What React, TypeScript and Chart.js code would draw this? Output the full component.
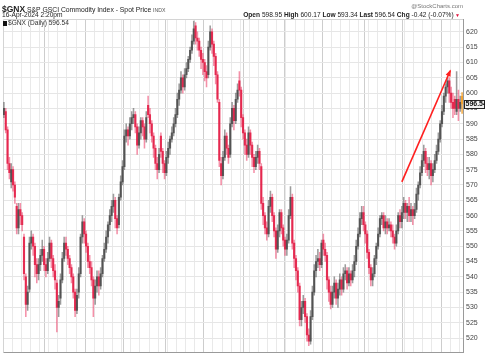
import React, { useEffect, useRef } from 'react';
import { Chart, registerables } from 'chart.js';

Chart.register(...registerables);

// ---- Data ----
const opens = [
  593, 594, 588, 577, 571, 575, 570, 563, 556, 562,
  560, 553, 540, 531, 536, 551, 553, 550, 544, 541,
  544, 547, 549, 544, 542, 546, 551, 546, 542, 538,
  530, 533, 539, 546, 551, 549, 546, 543, 540, 535,
  529, 535, 541, 553, 558, 554, 550, 545, 543, 539,
  533, 537, 540, 537, 541, 546, 549, 553, 557, 560,
  563, 565, 559, 557, 566, 571, 576, 586, 588, 586,
  590, 592, 593, 589, 583, 587, 591, 589, 585, 596,
  593, 590, 586, 582, 577, 575, 586, 581, 577, 574,
  579, 582, 585, 587, 590, 593, 598, 601, 605, 602,
  606, 608, 611, 614, 617, 622, 618, 617, 614, 611,
  610, 607, 606, 615, 620, 616, 612, 606, 597, 577,
  573, 579, 586, 582, 580, 590, 595, 591, 598, 604,
  601, 592, 587, 583, 580, 587, 583, 579, 576, 579,
  581, 576, 564, 560, 556, 554, 563, 566, 560, 555,
  549, 555, 561, 556, 552, 549, 552, 560, 566, 551,
  546, 542, 537, 526, 530, 532, 527, 521, 519, 527,
  535, 542, 545, 546, 544, 552, 549, 547, 539, 535,
  531, 535, 538, 533, 536, 539, 536, 541, 542, 538,
  541, 539, 542, 545, 550, 554, 559, 561, 557, 554,
  548, 543, 539, 541, 546, 550, 554, 559, 560, 556,
  558, 556, 557, 555, 553, 551, 555, 560, 558, 561,
  564, 561, 563, 560, 562, 560, 562, 567, 570, 574,
  578, 581, 577, 575, 577, 573, 575, 578, 581, 585,
  590, 594, 599, 602, 604, 600, 597, 598, 594, 598,
  595, 598.95,
];
const highs = [
  597, 595, 589, 579, 577, 576, 571, 564, 564, 564,
  561, 554, 541, 537, 553, 555, 554, 551, 546, 546,
  549, 552, 550, 546, 548, 553, 552, 547, 544, 539,
  534, 541, 548, 553, 553, 550, 547, 544, 541, 536,
  536, 543, 554, 560, 559, 555, 551, 547, 545, 540,
  539, 542, 542, 543, 547, 551, 555, 558, 562, 565,
  567, 566, 560, 567, 573, 578, 588, 590, 589, 592,
  594, 595, 594, 590, 589, 592, 592, 590, 594, 599,
  595, 591, 587, 583, 579, 582, 587, 582, 578, 581,
  584, 586, 589, 592, 595, 600, 603, 607, 606, 608,
  610, 612, 615, 619, 623.5, 623, 620, 618, 615, 613,
  611, 609, 617, 622, 621, 617, 613, 607, 598, 579,
  581, 588, 587, 583, 592, 597, 596, 600, 603, 607,
  602, 593, 588, 585, 589, 588, 584, 580, 581, 583,
  582, 577, 566, 561, 558, 565, 568, 567, 561, 556,
  557, 562, 562, 557, 553, 554, 562, 569.5, 567, 552,
  547, 543, 538, 532, 534, 533, 528, 523, 529, 537,
  544, 547, 549, 548, 552, 554, 551, 548, 540, 537,
  537, 540, 539, 538, 541, 540, 543, 544, 543, 543,
  542, 544, 547, 552, 556, 561, 563, 563, 558, 555,
  549, 544, 543, 547, 551, 556, 560, 561, 561, 560,
  559, 559, 558, 557, 554, 557, 561, 562, 563, 566,
  565, 564, 566, 564, 563, 564, 569, 571, 576, 580,
  583, 582, 579, 579, 578, 577, 580, 583, 587, 591,
  596, 600, 603, 605, 605, 602, 600, 599, 607, 601,
  599, 600.17,
];
const lows = [
  592, 587, 575, 572, 569, 568, 564, 554, 554, 557,
  555, 539, 527, 529, 535, 549, 547, 540, 538, 539,
  542, 545, 542, 540, 541, 545, 543, 540, 536, 522,
  527, 531, 538, 545, 547, 544, 541, 538, 533, 527,
  528, 533, 540, 551, 551, 548, 543, 541, 537, 527,
  531, 535, 534, 536, 540, 545, 548, 551, 555, 558,
  561, 556, 554, 556, 565, 570, 575, 584, 583, 585,
  588, 590, 587, 580, 582, 585, 586, 582, 584, 592,
  587, 584, 579, 575, 572, 574, 579, 574, 572, 573,
  577, 580, 584, 586, 589, 592, 596, 600, 600, 601,
  605, 607, 610, 613, 616, 616, 614, 612, 608, 606,
  604, 602, 605, 614, 613, 609, 603, 597, 576, 570,
  572, 578, 580, 577, 579, 589, 588, 590, 597, 599,
  589, 585, 580, 578, 579, 580, 576, 574, 575, 577,
  575, 562, 557, 554, 552, 553, 561, 558, 553, 546,
  548, 553, 554, 550, 547, 547, 551, 559, 549, 543,
  539, 535, 524, 524, 528, 525, 519, 517.5, 518, 526,
  534, 540, 543, 542, 543, 547, 545, 536, 532, 529.5,
  530, 533, 531, 530, 534, 534, 535, 539, 536, 537,
  537, 538, 540, 544, 549, 553, 557, 555, 551, 546,
  541, 537, 537, 540, 544, 549, 553, 557, 555, 554,
  554, 555, 553, 551, 549, 550, 554, 556, 556, 559,
  559, 558, 558, 558, 557, 559, 561, 565, 569, 573,
  576, 574, 573, 572, 570, 571, 574, 577, 580, 584,
  589, 593, 597, 600, 597, 595, 592, 593, 593, 591,
  594, 593.34,
];
const closes = [
  595, 588, 577, 574, 575, 570, 566, 556, 562, 560,
  557, 541, 531, 535, 551, 553, 550, 544, 541, 544,
  547, 549, 544, 542, 546, 551, 546, 542, 539, 530,
  532, 539, 546, 551, 549, 546, 543, 540, 535, 529,
  534, 541, 553, 558, 554, 550, 545, 543, 539, 533,
  537, 540, 537, 541, 546, 549, 553, 557, 560, 563,
  565, 559, 556, 566, 571, 576, 586, 588, 586, 590,
  592, 593, 589, 583, 587, 591, 589, 585, 592, 593,
  590, 586, 582, 577, 575, 580, 581, 577, 574, 579,
  582, 585, 587, 590, 593, 598, 601, 605, 602, 606,
  608, 611, 614, 617, 621, 618, 617, 614, 611, 610,
  607, 605, 615, 620, 616, 612, 606, 598, 578, 573,
  579, 586, 582, 579, 590, 595, 591, 598, 601, 601,
  592, 587, 583, 580, 587, 583, 579, 576, 579, 581,
  577, 564, 560, 556, 554, 563, 566, 560, 555, 549,
  555, 561, 556, 552, 549, 552, 560, 566, 551, 546,
  542, 537, 526, 530, 532, 527, 521, 519, 527, 535,
  542, 545, 546, 544, 551, 549, 547, 539, 535, 531,
  535, 538, 533, 536, 539, 536, 541, 542, 538, 541,
  539, 542, 545, 550, 554, 559, 561, 557, 554, 548,
  543, 539, 541, 546, 550, 554, 559, 560, 556, 558,
  556, 557, 555, 553, 551, 555, 560, 558, 561, 564,
  561, 563, 560, 562, 560, 562, 567, 570, 574, 578,
  581, 577, 575, 577, 573, 575, 578, 581, 585, 590,
  594, 599, 602, 604, 600, 597, 595, 595, 598, 595,
  596.96, 596.54,
];

const yTicks = [520, 525, 530, 535, 540, 545, 550, 555, 560, 565, 570, 575, 580, 585, 590, 595, 600, 605, 610, 615, 620];
const Y_MIN = 515.2;
const Y_MAX = 624.2;
const END_DATE = [2024, 3, 16]; // 16-Apr-2024 (month is 0-based)
const LAST_PRICE = 596.54;
const arrowStart = [218, 571];
const arrowEnd = [244.5, 607.3];

// trading-day calendar (weekdays) ending at END_DATE
function buildDates(n: number): Date[] {
  const out: Date[] = [];
  const d = new Date(END_DATE[0], END_DATE[1], END_DATE[2]);
  while (out.length < n) {
    const wd = d.getDay();
    if (wd !== 0 && wd !== 6) out.unshift(new Date(d));
    d.setDate(d.getDate() - 1);
  }
  return out;
}

const UP = 'rgba(55,55,55,0.72)';
const DOWN = 'rgba(226,18,60,0.82)';
const UP_WICK = 'rgba(90,90,90,0.6)';
const DOWN_WICK = 'rgba(236,70,110,0.6)';
const LASTC = 'rgba(245,160,40,0.85)';

export default function App() {
  const ref = useRef<HTMLCanvasElement | null>(null);

  useEffect(() => {
    if (!ref.current) return;
    const n = closes.length;
    const dates = buildDates(n);
    const labels = dates.map((d) => d.toISOString().slice(0, 10));
    const weekStart = dates.map((d, i) => i > 0 && (d.getDay() < dates[i - 1].getDay()));
    const monthStart = dates.map((d, i) => i > 0 && d.getMonth() !== dates[i - 1].getMonth());
    const up = closes.map((c, i) => c >= opens[i]);
    const colors = up.map((u, i) => (i === n - 1 ? LASTC : u ? UP : DOWN));
    const wickColors = up.map((u, i) => (i === n - 1 ? LASTC : u ? UP_WICK : DOWN_WICK));

    const overlay = {
      id: 'overlay',
      beforeDatasetsDraw(chart: any) {
        const { ctx, chartArea } = chart;
        ctx.save();
        ctx.strokeStyle = '#d4d4d4';
        ctx.lineWidth = 1;
        ctx.beginPath();
        ctx.moveTo(chartArea.left + 0.5, chartArea.bottom);
        ctx.lineTo(chartArea.left + 0.5, chartArea.top + 0.5);
        ctx.lineTo(chartArea.right, chartArea.top + 0.5);
        ctx.stroke();
        ctx.restore();
      },
      afterDatasetsDraw(chart: any) {
        const { ctx, chartArea, scales } = chart;
        const xs = scales.x;
        const ys = scales.y;
        // arrow
        const x1 = xs.getPixelForValue(arrowStart[0]);
        const y1 = ys.getPixelForValue(arrowStart[1]);
        const x2 = xs.getPixelForValue(arrowEnd[0]);
        const y2 = ys.getPixelForValue(arrowEnd[1]);
        ctx.save();
        ctx.strokeStyle = '#ff1f1f';
        ctx.fillStyle = '#ff1f1f';
        ctx.lineWidth = 1.6;
        ctx.beginPath();
        ctx.moveTo(x1, y1);
        ctx.lineTo(x2, y2);
        ctx.stroke();
        const ang = Math.atan2(y2 - y1, x2 - x1);
        const hl = 6;
        ctx.beginPath();
        ctx.moveTo(x2 + 1.5 * Math.cos(ang), y2 + 1.5 * Math.sin(ang));
        ctx.lineTo(x2 - hl * Math.cos(ang - 0.45), y2 - hl * Math.sin(ang - 0.45));
        ctx.lineTo(x2 - hl * Math.cos(ang + 0.45), y2 - hl * Math.sin(ang + 0.45));
        ctx.closePath();
        ctx.fill();
        ctx.restore();
        // last price tag
        const ty = Math.round(ys.getPixelForValue(LAST_PRICE));
        ctx.save();
        ctx.fillStyle = '#f2f2f2';
        ctx.fillRect(chartArea.right + 1, ty - 4, 21, 9);
        ctx.strokeStyle = '#222';
        ctx.lineWidth = 1;
        ctx.strokeRect(chartArea.right + 1.5, ty - 3.5, 20, 8);
        ctx.fillStyle = '#111';
        ctx.font = 'bold 7px "Liberation Sans", Arial, sans-serif';
        ctx.textBaseline = 'middle';
        ctx.fillText(String(LAST_PRICE), chartArea.right + 2.5, ty + 0.5);
        ctx.restore();
      },
    };

    const chart = new Chart(ref.current, {
      type: 'bar',
      data: {
        labels,
        datasets: [
          {
            label: 'range',
            data: highs.map((h, i) => [lows[i], h]) as any,
            backgroundColor: wickColors,
            barThickness: 0.9,
            grouped: false,
            borderWidth: 0,
            borderSkipped: false,
            order: 2,
          } as any,
          {
            label: 'body',
            data: opens.map((o, i) => [o, closes[i]]) as any,
            backgroundColor: colors,
            barThickness: 1.5,
            grouped: false,
            borderWidth: 0,
            borderSkipped: false,
            order: 1,
          } as any,
        ],
      },
      options: {
        responsive: false,
        animation: false,
        maintainAspectRatio: false,
        layout: { padding: { left: 3, top: 19, right: 0, bottom: 3 } },
        plugins: { legend: { display: false }, tooltip: { enabled: false } },
        scales: {
          x: {
            type: 'category',
            offset: true,
            grid: {
              offset: true,
              drawTicks: false,
              color: (ctx: any) => {
                const i = ctx.index;
                if (monthStart[i]) return '#cdcdcd';
                if (weekStart[i]) return '#e9e9e9';
                return 'rgba(0,0,0,0)';
              },
            },
            border: { display: true, color: '#9a9a9a' },
            ticks: { display: false, autoSkip: false },
          },
          y: {
            position: 'right',
            min: Y_MIN,
            max: Y_MAX,
            afterBuildTicks: (s: any) => {
              s.ticks = yTicks.map((v) => ({ value: v }));
            },
            afterFit: (s: any) => {
              s.width = 22;
            },
            grid: { color: '#e6e6e6', drawTicks: false },
            border: { display: true, color: '#9a9a9a' },
            ticks: {
              padding: 3,
              color: '#444',
              font: { size: 7, family: '"Liberation Sans", Arial, sans-serif' },
            },
          },
        },
      },
      plugins: [overlay],
    } as any);
    return () => chart.destroy();
  }, []);

  const font = '"Liberation Sans", Arial, sans-serif';
  return (
    <div style={{ position: 'fixed', left: 0, top: 0, width: 485, height: 360, background: '#fff', fontFamily: font, color: '#222', overflow: 'hidden' }}>
      <canvas ref={ref} width={485} height={360} style={{ position: 'absolute', left: 0, top: 0, width: 485, height: 360 }} />
      <div style={{ position: 'absolute', left: 2, top: 2, whiteSpace: 'nowrap', lineHeight: '9px' }}>
        <span style={{ fontWeight: 'bold', fontSize: 8.5 }}>$GNX</span>
        <span style={{ fontSize: 6.8 }}> S&amp;P GSCI Commodity Index - Spot Price </span>
        <span style={{ fontSize: 5.2, color: '#555' }}>INDX</span>
      </div>
      <div style={{ position: 'absolute', right: 22, top: 3, fontSize: 6, color: '#777', whiteSpace: 'nowrap', lineHeight: '7px' }}>@StockCharts.com</div>
      <div style={{ position: 'absolute', left: 2, top: 11, fontSize: 6.6, whiteSpace: 'nowrap', lineHeight: '7px' }}>16-Apr-2024 2:20pm</div>
      <div style={{ position: 'absolute', right: 25, top: 11, fontSize: 6.6, whiteSpace: 'nowrap', lineHeight: '7px' }}>
        <b>Open</b> 598.95 <b>High</b> 600.17 <b>Low</b> 593.34 <b>Last</b> 596.54 <b>Chg</b> -0.42 (-0.07%)
        <span style={{ color: '#e0103a', fontSize: 5 }}> ▼</span>
      </div>
      <div style={{ position: 'absolute', left: 3, top: 19, fontSize: 6.6, whiteSpace: 'nowrap', lineHeight: '7px', color: '#333' }}>
        <span style={{ display: 'inline-block', width: 4, height: 5, background: '#111', marginRight: 1, verticalAlign: 'middle' }} />
        $GNX (Daily) 596.54
      </div>
    </div>
  );
}
